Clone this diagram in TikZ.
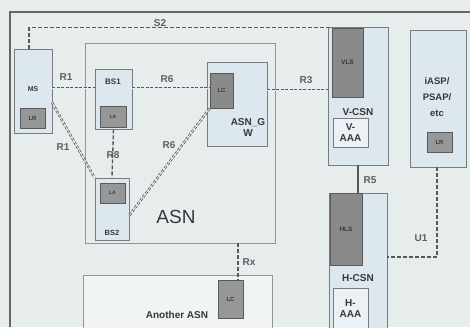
\documentclass[tikz,border=0pt]{standalone}
\usepackage{fontspec}
\setmainfont{Liberation Sans}
\usetikzlibrary{calc}
\definecolor{bgc}{RGB}{231,237,237}
\definecolor{boxc}{RGB}{221,231,238}
\definecolor{edgec}{RGB}{120,124,128}
\definecolor{darkc}{RGB}{138,138,138}
\definecolor{midc}{RGB}{150,152,152}
\definecolor{txtc}{RGB}{55,55,60}
\begin{document}
\begin{tikzpicture}[x=1pt,y=-1pt,
  font=\bfseries, text=txtc,
  boxa/.style={draw=edgec, line width=0.9pt, fill=boxc},
  frameb/.style={draw=edgec!80, line width=0.7pt},
  darkbox/.style={draw=black!65, line width=0.9pt, fill=darkc},
  smallbox/.style={draw=black!65, line width=0.9pt, fill=midc},
  whitebox/.style={draw=edgec, line width=0.9pt, fill=boxc!60!white},
  rail/.style={draw=gray!70!black, line width=2.4pt, dash pattern=on 3pt off 1.5pt},
  railin/.style={draw=boxc!70!white, line width=0.8pt},
  dline/.style={draw=gray!70!black, line width=1.2pt, dash pattern=on 4pt off 2pt},
  lbl/.style={font=\bfseries\fontsize{10}{10}\selectfont, text=txtc!80},
  tiny/.style={font=\bfseries\fontsize{7}{7}\selectfont},
  mid/.style={font=\bfseries\fontsize{10}{11}\selectfont, align=center}]
\useasboundingbox (0,0) rectangle (470,327);
\fill[bgc] (0,0) rectangle (470,327);
% outer frame
\draw[draw=black!60, line width=1.6pt] (10,327) -- (10,12) -- (470,12);
% ASN
\path[frameb] (85,43) rectangle (275,243);
\node[anchor=center, font=\fontsize{19}{19}\selectfont, text=txtc] (asnl) at (176,217) {ASN};
% Another ASN
\path[frameb, fill=bgc!60!white] (83,275) rectangle (272,333);
\node[smallbox, minimum width=25pt, minimum height=38pt, inner sep=0pt] (lc2) at (230.5,299) {\fontsize{6}{6}\selectfont LC};
\node[font=\bfseries\fontsize{10}{10}\selectfont] (anl) at (177,315) {Another ASN};
% MS
\path[boxa] (14,49) rectangle (52,133);
\node[inner sep=0pt, minimum width=38pt, minimum height=84pt] (ms) at (33,91) {};
\node[tiny] (msl) at (33,89) {MS};
\node[smallbox, minimum width=25pt, minimum height=20pt, inner sep=0pt] (lr1) at (32.5,118) {\fontsize{6}{6}\selectfont LR};
% BS1
\node[boxa, minimum width=37pt, minimum height=60pt, inner sep=0pt] (bs1) at (113.5,99) {};
\node[font=\bfseries\fontsize{8}{8}\selectfont] (bs1l) at (113,82) {BS1};
\node[smallbox, minimum width=26pt, minimum height=21pt, inner sep=0pt] (la1) at (113,116.5) {\fontsize{5}{5}\selectfont LA};
% BS2
\node[boxa, minimum width=34pt, minimum height=62pt, inner sep=0pt] (bs2) at (112,209) {};
\node[smallbox, minimum width=25pt, minimum height=20pt, inner sep=0pt] (la2) at (112.5,193) {\fontsize{5}{5}\selectfont LA};
\node[font=\bfseries\fontsize{7.5}{7.5}\selectfont] (bs2l) at (112,233) {BS2};
% ASN_GW
\node[boxa, minimum width=60pt, minimum height=84pt, inner sep=0pt] (asngw) at (237,104) {};
\node[darkbox, minimum width=23pt, minimum height=35pt, inner sep=0pt] (lc1) at (221.5,90.5) {\fontsize{6}{6}\selectfont LC};
\node[mid] (gwl) at (248,128) {ASN\_G\\W};
% V-CSN
\node[boxa, minimum width=60pt, minimum height=138pt, inner sep=0pt] (vcsn) at (358,96) {};
\node[darkbox, minimum width=31pt, minimum height=69pt, inner sep=0pt] (vls) at (347.5,62.5) {\fontsize{6.5}{6.5}\selectfont VLS};
\node[mid] (vcsnl) at (358,112) {V-CSN};
\node[whitebox, minimum width=35pt, minimum height=29pt, inner sep=0pt, mid] (vaaa) at (350.5,132.5) {V-\\AAA};
% iASP
\node[boxa, minimum width=56pt, minimum height=137pt, inner sep=0pt] (iasp) at (438,98.5) {};
\node[mid, font=\bfseries\fontsize{9.5}{16}\selectfont] (iaspl) at (437,97) {iASP/\\PSAP/\\etc};
\node[smallbox, minimum width=25pt, minimum height=20pt, inner sep=0pt] (lr2) at (439.5,142) {\fontsize{6}{6}\selectfont LR};
% H-CSN
\path[boxa] (329,193) rectangle (387,335);
\node[inner sep=0pt, minimum width=58pt, minimum height=142pt] (hcsn) at (358,264) {};
\node[darkbox, minimum width=32pt, minimum height=72pt, inner sep=0pt] (hls) at (346,229) {\fontsize{6.5}{6.5}\selectfont HLS};
\node[mid] (hcsnl) at (358,278) {H-CSN};
\path[whitebox] (333,288) rectangle (368,335);
\node[mid] (haaal) at (350.5,309) {H-\\AAA};
% helper coordinates
\coordinate (ya) at (0,88);
\coordinate (yb) at (0,90);
\coordinate (xr) at (238,0);
\coordinate (xu) at (437,0);
\coordinate (yu) at (0,257);
% S2
\draw[dline] (ms.north -| 29,0) |- (vls.north west);
\node[lbl] (s2) at (160,23) {S2};
% R1 horizontal
\draw[rail] (ms.east |- ya) -- (bs1.west |- ya);
\draw[railin] (ms.east |- ya) -- (bs1.west |- ya);
\node[lbl] (r1a) at (66,77) {R1};
% R6 horizontal
\draw[rail] (bs1.east |- ya) -- (lc1.west |- ya);
\draw[railin] (bs1.east |- ya) -- (lc1.west |- ya);
\node[lbl] (r6a) at (167,79) {R6};
% R3
\draw[rail] (asngw.east |- yb) -- (vcsn.west |- yb);
\draw[railin] (asngw.east |- yb) -- (vcsn.west |- yb);
\node[lbl] (r3) at (306,80) {R3};
% R8
\draw[dline, line width=1.4pt] (bs1.south) -- (bs2.north);
\node[lbl] (r8) at (113,155) {R8};
% R1 diagonal
\coordinate (msr) at ($(ms.north east)!0.64!(ms.south east)$);
\draw[rail] (msr) -- (bs2.north west);
\draw[railin] (msr) -- (bs2.north west);
\node[lbl] (r1b) at (63,147) {R1};
% R6 diagonal
\coordinate (bs2r) at ($(bs2.north east)!0.6!(bs2.south east)$);
\draw[rail] (lc1.south west) -- (bs2r);
\draw[railin] (lc1.south west) -- (bs2r);
\node[lbl] (r6b) at (169,145) {R6};
% Rx
\draw[dline, line width=1.4pt] (238,243) -- (lc2.north -| xr);
\node[lbl] (rx) at (249,262) {Rx};
% R5
\draw[draw=gray!70!black, line width=1.2pt] (vcsn.south) -- (hcsn.north);
\node[lbl] (r5) at (370,180) {R5};
% U1
\draw[dline] (iasp.south -| xu) |- (hcsn.east |- yu);
\node[lbl] (u1) at (421,238) {U1};
\end{tikzpicture}
\end{document}
